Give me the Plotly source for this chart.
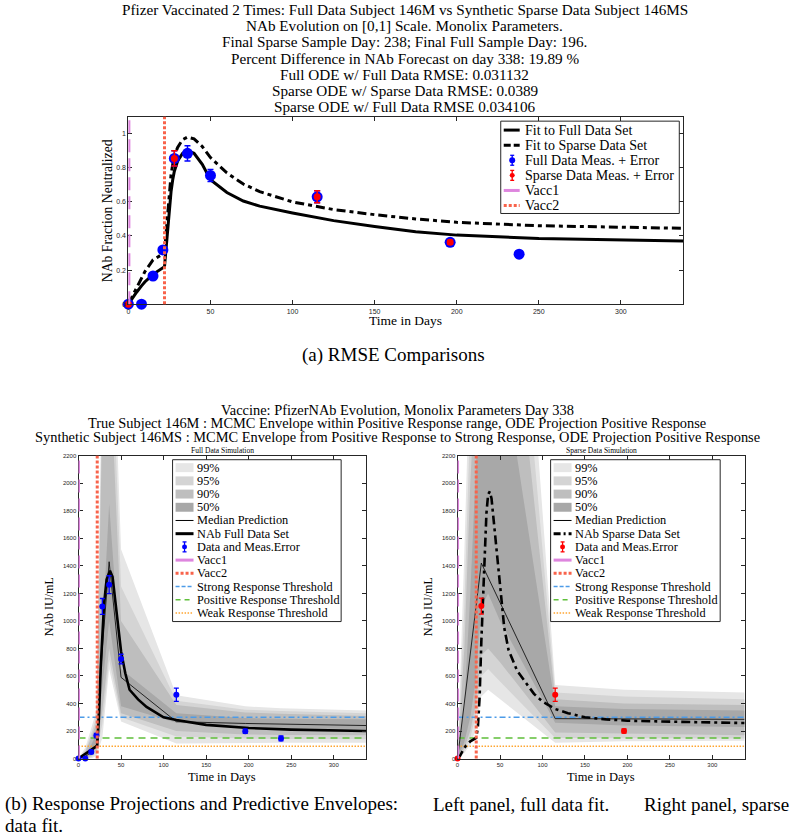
import plotly.graph_objects as go

W, H = 792, 840
SERIF = "Liberation Serif"
SANS = "Liberation Sans"

# ---------------- DATA ----------------
# Top panel: NAb fraction neutralized (ODE fits)
fit_days = [0, 2, 5, 8, 10, 15, 20, 22, 23, 24, 25, 26, 27, 28, 30, 33, 36, 40, 45, 50,
            60, 70, 80, 100, 125, 150, 175, 200, 250, 300, 338]
full_fit = [0, 0.03, 0.07, 0.107, 0.13, 0.175, 0.21, 0.22, 0.33, 0.45, 0.57, 0.66, 0.73, 0.78,
            0.84, 0.885, 0.90, 0.885, 0.82, 0.73, 0.655, 0.605, 0.575, 0.535, 0.49, 0.455,
            0.425, 0.405, 0.385, 0.375, 0.37]
sparse_fit = [0, 0.04, 0.10, 0.155, 0.19, 0.26, 0.29, 0.30, 0.42, 0.55, 0.67, 0.76, 0.82, 0.87,
              0.92, 0.965, 0.98, 0.97, 0.925, 0.86, 0.77, 0.705, 0.66, 0.60, 0.555, 0.525,
              0.50, 0.48, 0.46, 0.45, 0.445]

full_days = [0, 8, 15, 21, 28, 36, 50, 115, 196, 238]
full_frac = [0, 0, 0.165, 0.318, 0.855, 0.885, 0.755, 0.63, 0.363, 0.293]
full_frac_err = [0.004, 0.004, 0.01, 0.012, 0.045, 0.045, 0.035, 0.035, 0.012, 0.02]

sparse_days = [0, 28, 115, 196]
sparse_frac = [0, 0.855, 0.63, 0.363]
sparse_frac_err = [0.004, 0.045, 0.035, 0.012]

vacc_days = [0, 22]

# Bottom panels: NAb IU/mL
full_iu = [0, 0, 48, 168, 1105, 1263, 723, 464, 199, 146]
full_iu_err = [6, 6, 12, 15, 58, 65, 35, 48, 15, 18]
sparse_iu = [0, 1108, 464, 200]
sparse_iu_err = [6, 58, 48, 15]

ode_full_days = [0, 5, 10, 15, 20, 22, 24, 26, 28, 30, 33, 37, 40, 45, 50, 55, 60, 70, 80,
                 100, 115, 150, 200, 250, 300, 338]
ode_full_iu = [0, 20, 45, 65, 85, 95, 300, 650, 900, 1120, 1300, 1365, 1320, 1050, 780, 620,
               500, 430, 375, 300, 280, 245, 222, 210, 203, 200]

ode_sparse_days = [0, 3, 6, 10, 15, 20, 22, 24, 26, 28, 30, 32, 34, 36, 38, 40, 45, 50, 55, 60,
                   70, 80, 90, 100, 115, 130, 150, 175, 200, 250, 300, 338]
ode_sparse_iu = [0, 20, 55, 95, 125, 145, 150, 230, 450, 850, 1150, 1500, 1780, 1920, 1940,
                 1890, 1580, 1250, 950, 790, 640, 555, 470, 415, 360, 330, 300, 285, 275, 268,
                 262, 258]

# MCMC envelopes, full data simulation
env_full_days = [0, 8, 15, 21, 28, 36, 50, 115, 196, 238, 338]
full_med = [0, 15, 45, 100, 800, 1430, 590, 268, 255, 250, 240]
full_p99_hi = [0, 80, 220, 350, 3000, 4000, 1520, 460, 380, 365, 350]
full_p95_hi = [0, 60, 180, 300, 2700, 3500, 1250, 420, 355, 345, 330]
full_p90_hi = [0, 50, 150, 260, 2500, 3000, 1000, 390, 335, 325, 310]
full_p50_hi = [0, 30, 100, 180, 900, 1850, 650, 330, 295, 290, 285]
full_p50_lo = [0, 5, 40, 100, 500, 1000, 380, 260, 225, 220, 215]
full_p90_lo = [0, 0, 20, 60, 350, 800, 330, 200, 175, 172, 170]
full_p95_lo = [0, 0, 10, 40, 250, 720, 300, 160, 145, 142, 140]
full_p99_lo = [0, 0, 0, 20, 150, 650, 270, 110, 112, 114, 115]

# MCMC envelopes, sparse data simulation
sparse_med_days = [0, 28, 115, 196, 338]
sparse_med = [0, 1420, 290, 287, 285]
env_sparse_days = [0, 8, 15, 21, 28, 36, 50, 115, 196, 338]
sparse_p99_hi = [0, 1500, 3000, 4500, 6000, 6500, 6000, 535, 500, 480]
sparse_p95_hi = [0, 1100, 2500, 3800, 5000, 5500, 5000, 480, 450, 430]
sparse_p90_hi = [0, 800, 2000, 3200, 4200, 4500, 4200, 430, 400, 390]
sparse_p50_hi = [0, 400, 1200, 2000, 3000, 3200, 3000, 380, 360, 350]
sparse_p50_lo = [0, 120, 300, 550, 1100, 1200, 1000, 260, 240, 230]
sparse_p90_lo = [0, 80, 200, 380, 750, 800, 700, 190, 180, 170]
sparse_p95_lo = [0, 60, 150, 300, 600, 650, 560, 150, 150, 145]
sparse_p99_lo = [0, 40, 100, 200, 450, 500, 430, 115, 125, 130]

strong_thr, positive_thr, weak_thr = 300, 150, 90

top_title = [
    "Pfizer Vaccinated 2 Times: Full Data Subject 146M vs Synthetic Sparse Data Subject 146MS",
    "NAb Evolution on [0,1] Scale. Monolix Parameters.",
    "Final Sparse Sample Day: 238; Final Full Sample Day: 196.",
    "Percent Difference in NAb Forecast on day 338: 19.89 %",
    "Full ODE w/ Full Data RMSE: 0.031132",
    "Sparse ODE w/ Sparse Data RMSE: 0.0389",
    "Sparse ODE w/ Full Data RMSE 0.034106",
]
bottom_title = [
    "Vaccine: PfizerNAb Evolution, Monolix Parameters Day 338",
    "True Subject 146M : MCMC Envelope within Positive Response range, ODE Projection Positive Response",
    "Synthetic Subject 146MS : MCMC Envelope from Positive Response to Strong Response, ODE Projection Positive Response",
]
caption_b = ["(b) Response Projections and Predictive Envelopes:", "Left panel, full data fit.",
             "Right panel, sparse", "data fit."]
top_legend = ["Fit to Full Data Set", "Fit to Sparse Data Set", "Full Data Meas. + Error",
              "Sparse Data Meas. + Error", "Vacc1", "Vacc2"]
env_labels = ["99%", "95%", "90%", "50%"]
bottom_legend_rest = ["Median Prediction", None, "Data and Meas.Error", "Vacc1", "Vacc2",
                      "Strong Response Threshold", "Positive Response Threshold",
                      "Weak Response Threshold"]

# ---------------- STYLE ----------------
BLUE = "#0000FF"
RED = "#FF0000"
PINK = "#DE85DE"
TOMATO = "#F8634B"
C_STRONG = "#4C9BE8"
C_POS = "#5FBF3A"
C_WEAK = "#FFA530"
ENV_COLORS = ["#E6E6E6", "#D4D4D4", "#BEBEBE", "#A8A8A8"]
AXC = "#262626"


def px(x):
    return x / W


def py(y):
    return 1 - y / H


fig = go.Figure()

# axis pixel frames
TOP = dict(x0=126.7, x1=683, y0=114.5, y1=303.3)
BL = dict(x0=76.7, x1=365, y0=456, y1=761)
BR = dict(x0=456.7, x1=744.5, y0=456, y1=761)


def axis_common(size):
    return dict(showline=True, linecolor=AXC, linewidth=1, mirror="ticks", ticks="inside",
                ticklen=4, tickwidth=0.8, tickcolor=AXC, showgrid=False, zeroline=False,
                tickfont=dict(family=SANS, size=size, color=AXC))


def dom(f):
    return dict(xd=[px(f["x0"]), px(f["x1"])], yd=[py(f["y1"]), py(f["y0"])])


dt, dl, dr = dom(TOP), dom(BL), dom(BR)
xt = list(range(0, 301, 50))
yt_top = [0, 0.2, 0.4, 0.6, 0.8, 1]
yt_bot = list(range(0, 2201, 200))

fig.update_layout(
    width=W, height=H, margin=dict(l=0, r=0, t=0, b=0),
    paper_bgcolor="white", plot_bgcolor="white", showlegend=False,
    xaxis=dict(domain=dt["xd"], range=[0, 338], tickvals=xt, anchor="y", **axis_common(7)),
    yaxis=dict(domain=dt["yd"], range=[0, 1.1], tickvals=yt_top,
               ticktext=["0", "0.2", "0.4", "0.6", "0.8", "1"], anchor="x", **axis_common(7)),
    xaxis2=dict(domain=dl["xd"], range=[0, 338], tickvals=xt, anchor="y2", **axis_common(6)),
    yaxis2=dict(domain=dl["yd"], range=[0, 2200], tickvals=yt_bot, anchor="x2", **axis_common(6)),
    xaxis3=dict(domain=dr["xd"], range=[0, 338], tickvals=xt, anchor="y3", **axis_common(6)),
    yaxis3=dict(domain=dr["yd"], range=[0, 2200], tickvals=yt_bot, anchor="x3", **axis_common(6)),
)

# ---------------- TOP PANEL ----------------
fig.add_trace(go.Scatter(x=fit_days, y=full_fit, mode="lines", xaxis="x", yaxis="y",
                         line=dict(color="black", width=3)))
fig.add_trace(go.Scatter(x=fit_days, y=sparse_fit, mode="lines", xaxis="x", yaxis="y",
                         line=dict(color="black", width=3, dash="9px,4px,4px,4px")))
fig.add_trace(go.Scatter(x=full_days, y=full_frac, mode="markers", xaxis="x", yaxis="y",
                         marker=dict(color=BLUE, size=11), cliponaxis=False,
                         error_y=dict(type="data", array=full_frac_err, color=BLUE,
                                      thickness=1.5, width=3)))
fig.add_trace(go.Scatter(x=sparse_days, y=sparse_frac, mode="markers", xaxis="x", yaxis="y",
                         marker=dict(color=RED, size=7), cliponaxis=False,
                         error_y=dict(type="data", array=sparse_frac_err, color=RED,
                                      thickness=1.5, width=3)))


# ---------------- BOTTOM PANELS ----------------
def envelope(xa, ya, days, bands):
    for (hi, lo), col in zip(bands, ENV_COLORS):
        fig.add_trace(go.Scatter(x=days + days[::-1], y=hi + lo[::-1], mode="lines",
                                 fill="toself", fillcolor=col, line=dict(width=0),
                                 xaxis=xa, yaxis=ya, hoverinfo="skip"))


envelope("x2", "y2", env_full_days,
         [(full_p99_hi, full_p99_lo), (full_p95_hi, full_p95_lo),
          (full_p90_hi, full_p90_lo), (full_p50_hi, full_p50_lo)])
envelope("x3", "y3", env_sparse_days,
         [(sparse_p99_hi, sparse_p99_lo), (sparse_p95_hi, sparse_p95_lo),
          (sparse_p90_hi, sparse_p90_lo), (sparse_p50_hi, sparse_p50_lo)])

for xa, ya in (("x2", "y2"), ("x3", "y3")):
    for thr, col, dash, wdt in ((strong_thr, C_STRONG, "6px,3px,2px,3px", 1.5),
                                (positive_thr, C_POS, "7px,5px", 1.5),
                                (weak_thr, C_WEAK, "1.5px,1.5px", 1.5)):
        fig.add_trace(go.Scatter(x=[0, 338], y=[thr, thr], mode="lines", xaxis=xa, yaxis=ya,
                                 line=dict(color=col, width=wdt, dash=dash)))

fig.add_trace(go.Scatter(x=env_full_days, y=full_med, mode="lines", xaxis="x2", yaxis="y2",
                         line=dict(color="black", width=0.8)))
fig.add_trace(go.Scatter(x=ode_full_days, y=ode_full_iu, mode="lines", xaxis="x2", yaxis="y2",
                         line=dict(color="black", width=2.6)))
fig.add_trace(go.Scatter(x=full_days, y=full_iu, mode="markers", xaxis="x2", yaxis="y2",
                         marker=dict(color=BLUE, size=6), cliponaxis=False,
                         error_y=dict(type="data", array=full_iu_err, color=BLUE,
                                      thickness=1.3, width=2.5)))

fig.add_trace(go.Scatter(x=sparse_med_days, y=sparse_med, mode="lines", xaxis="x3", yaxis="y3",
                         line=dict(color="black", width=0.8)))
fig.add_trace(go.Scatter(x=ode_sparse_days, y=ode_sparse_iu, mode="lines", xaxis="x3",
                         yaxis="y3", line=dict(color="black", width=2.6,
                                               dash="9px,4px,3px,4px")))
fig.add_trace(go.Scatter(x=sparse_days, y=sparse_iu, mode="markers", xaxis="x3", yaxis="y3",
                         marker=dict(color=RED, size=6), cliponaxis=False,
                         error_y=dict(type="data", array=sparse_iu_err, color=RED,
                                      thickness=1.3, width=2.5)))

shapes = []
annotations = []

# vaccination lines (data x, full axis height)
for xa, w1, w2 in (("x", 4, 3), ("x2", 3, 3), ("x3", 3, 3)):
    ya = xa.replace("x", "y") + " domain"
    shapes.append(dict(type="line", xref=xa, yref=ya, x0=vacc_days[0], x1=vacc_days[0], y0=0,
                       y1=1, line=dict(color=PINK, width=w1, dash="13px,6px"), layer="above"))
    shapes.append(dict(type="line", xref=xa, yref=ya, x0=vacc_days[1], x1=vacc_days[1], y0=0,
                       y1=1, line=dict(color=TOMATO, width=w2, dash="3px,2px"), layer="above"))


# ---------------- helpers for text & legends ----------------
def text(x, y, s, size, xanchor="center", angle=0, family=SERIF, color="black"):
    annotations.append(dict(x=px(x), y=py(y), xref="paper", yref="paper", text=s,
                            showarrow=False, font=dict(family=family, size=size, color=color),
                            xanchor=xanchor, yanchor="middle", textangle=angle))


def box(x0, y0, x1, y1):
    shapes.append(dict(type="rect", xref="paper", yref="paper", x0=px(x0), x1=px(x1),
                       y0=py(y1), y1=py(y0), line=dict(color=AXC, width=1),
                       fillcolor="white", layer="above"))


def sym_line(x0, x1, y, color, width, dash="solid"):
    shapes.append(dict(type="line", xref="paper", yref="paper", x0=px(x0), x1=px(x1),
                       y0=py(y), y1=py(y), line=dict(color=color, width=width, dash=dash),
                       layer="above"))


def sym_rect(x0, x1, y, h, color):
    shapes.append(dict(type="rect", xref="paper", yref="paper", x0=px(x0), x1=px(x1),
                       y0=py(y + h / 2), y1=py(y - h / 2), line=dict(width=0),
                       fillcolor=color, layer="above"))


def sym_err(xc, y, color, r, half=5):
    shapes.append(dict(type="line", xref="paper", yref="paper", x0=px(xc), x1=px(xc),
                       y0=py(y + half), y1=py(y - half), line=dict(color=color, width=1.3),
                       layer="above"))
    for yy in (y - half, y + half):
        shapes.append(dict(type="line", xref="paper", yref="paper", x0=px(xc - 2),
                           x1=px(xc + 2), y0=py(yy), y1=py(yy),
                           line=dict(color=color, width=1.3), layer="above"))
    shapes.append(dict(type="circle", xref="paper", yref="paper", x0=px(xc - r), x1=px(xc + r),
                       y0=py(y + r), y1=py(y - r), line=dict(width=0), fillcolor=color,
                       layer="above"))


# ---------------- titles ----------------
for i, s in enumerate(top_title):
    text(404, 6.5 + i * 16.3, s, 15.2)
for i, s in enumerate(bottom_title):
    text(396, 409.5 + i * 13.7, s, 14.4)

text(405, 320, "Time in Days", 13.5)
text(106, 209, "NAb Fraction Neutralized", 13.7, angle=-90)
text(392, 355, "(a) RMSE Comparisons", 19)

for f, lab in ((BL, "Full Data Simulation"), (BR, "Sparse Data Simulation")):
    cx = (f["x0"] + f["x1"]) / 2
    text(cx, 451, lab, 7.5)
    text(cx, 780, "Time in Days", 12.5)
    text(f["x0"] - 30, 608, "NAb IU/mL", 12, angle=-90)

# justified caption (b): pieces anchored left / middle / right
text(1, 807, caption_b[0], 19, xanchor="left")
text(430, 807, caption_b[1], 19, xanchor="left")
text(791, 807, caption_b[2], 19, xanchor="right")
text(1, 828, caption_b[3], 19, xanchor="left")

# ---------------- top legend ----------------
box(500, 119, 679, 212)
ly = [128 + i * 15.2 for i in range(6)]
sym_line(503, 519, ly[0], "black", 3)
sym_line(503, 519, ly[1], "black", 3, "7px,3px")
sym_err(511.5, ly[2], BLUE, 3)
sym_err(511.5, ly[3], RED, 2.5)
sym_line(503, 519, ly[4], PINK, 3)
sym_line(503, 519, ly[5], TOMATO, 3, "3px,2px")
for yy, s in zip(ly, top_legend):
    text(522, yy, s, 14, xanchor="left")


# ---------------- bottom legends ----------------
def bottom_legend(x0, x1, main_label, main_dash, dot_color):
    box(x0, 460, x1, 623)
    ys = [468 + i * 13.3 for i in range(12)]
    sx0, sx1 = x0 + 3, x0 + 21
    for yy, col in zip(ys[:4], ENV_COLORS):
        sym_rect(sx0, sx1, yy, 9, col)
    sym_line(sx0, sx1, ys[4], "black", 1)
    sym_line(sx0, sx1, ys[5], "black", 3, main_dash)
    sym_err((sx0 + sx1) / 2, ys[6], dot_color, 2.5)
    sym_line(sx0, sx1, ys[7], PINK, 3)
    sym_line(sx0, sx1, ys[8], TOMATO, 3, "3px,2px")
    sym_line(sx0, sx1, ys[9], C_STRONG, 1.5, "4px,2px")
    sym_line(sx0, sx1, ys[10], C_POS, 1.5, "5px,4px")
    sym_line(sx0, sx1, ys[11], C_WEAK, 1.5, "1.5px,1.5px")
    labels = env_labels + [bottom_legend_rest[0], main_label] + bottom_legend_rest[2:]
    for yy, s in zip(ys, labels):
        text(x0 + 22.5, yy, s, 12.3, xanchor="left")


bottom_legend(171, 340, "NAb Full Data Set", "solid", BLUE)
bottom_legend(550, 720, "NAb Sparse Data Set", "7px,3px,2px,3px", RED)

fig.update_layout(shapes=shapes, annotations=annotations)
fig.write_html("out.html", config={"displayModeBar": False},
               post_script="document.body.style.margin='0px';")
